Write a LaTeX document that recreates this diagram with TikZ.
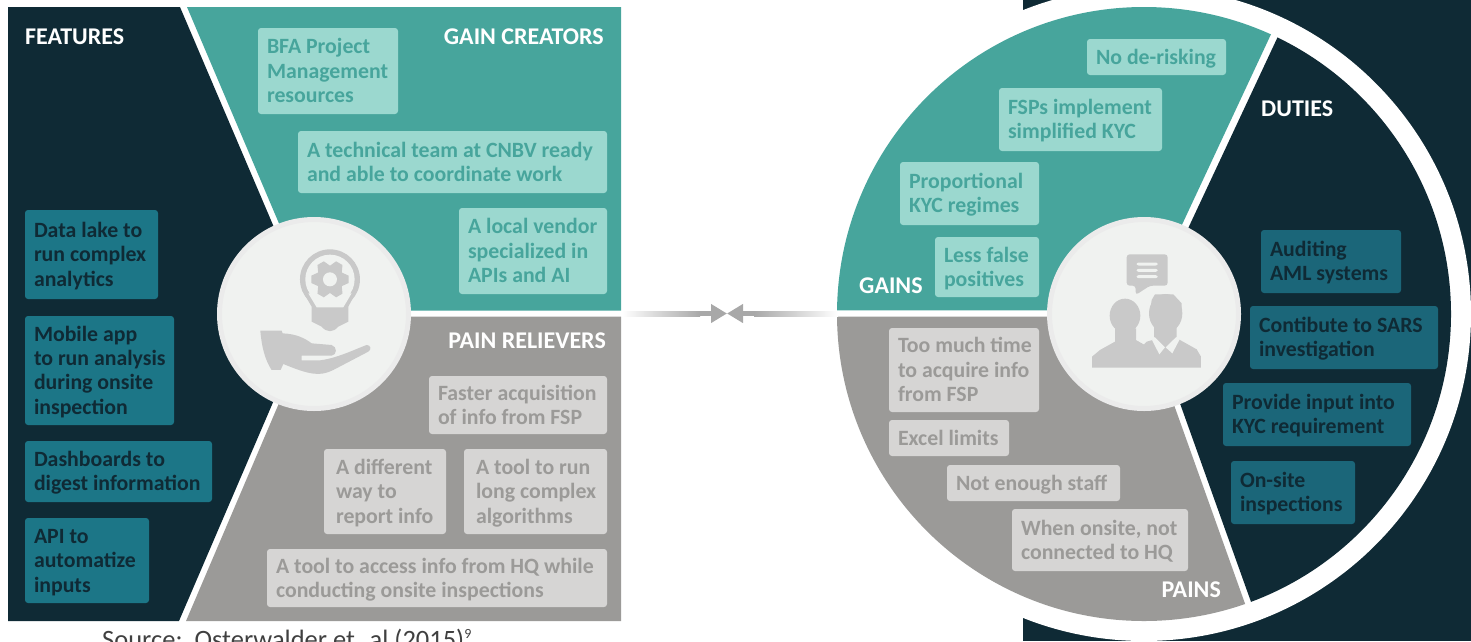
\documentclass[tikz,border=0pt]{standalone}
\usepackage{fontspec}
\setmainfont{Carlito}
\usetikzlibrary{arrows.meta}
\definecolor{ink}{HTML}{0F2A35}
\definecolor{teal}{HTML}{47A59C}
\definecolor{tealbox}{HTML}{9BD8CF}
\definecolor{gry}{HTML}{9B9A98}
\definecolor{grybox}{HTML}{D6D5D4}
\definecolor{fbox}{HTML}{1C7687}
\definecolor{dbox}{HTML}{1B6679}
\definecolor{hubfill}{HTML}{F0F2F0}
\definecolor{hubring}{HTML}{EBEBEB}
\definecolor{icon}{HTML}{C9C9C9}
\definecolor{shaft}{HTML}{A8A8A8}
\tikzset{
  boxbase/.style={rounded corners=3pt,inner xsep=9pt,inner ysep=0pt,outer sep=0pt,
    font=\fontsize{21.8}{24.4}\selectfont\bfseries},
  fbx/.style={boxbase,fill=fbox,text=ink},
  dbx/.style={boxbase,fill=dbox,text=ink},
  tbx/.style={boxbase,fill=tealbox,text=teal},
  gbx/.style={boxbase,fill=grybox,text=gry},
  lbl/.style={inner sep=0pt,text=white,font=\fontsize{24}{24}\selectfont\bfseries},
  hub/.style={circle,fill=hubfill,draw=hubring,line width=5pt,minimum size=189pt,inner sep=0pt,outer sep=0pt},
  conn/.style={draw=shaft,line width=5pt,-{Triangle[length=16pt,width=18pt,fill=shaft]}}
}
\newcommand\bx[7]{%
  \pgfmathsetmacro\bw{#4-#2}\pgfmathsetmacro\bh{#5-#3}\pgfmathsetmacro\tw{\bw-18}%
  \node[#6,anchor=north west,minimum width=\bw pt,minimum height=\bh pt] (#1) at (#2,#3) {\makebox[\tw pt][l]{\raisebox{-7.5pt}[0pt][0pt]{\begin{tabular}[c]{@{}l@{}}#7\end{tabular}}}};}
\begin{document}
\begin{tikzpicture}[x=1pt,y=-1pt]
\clip (0,0) rectangle (1471,641);
\useasboundingbox (0,0) rectangle (1471,641);
% left panels
\fill[ink] (8,7)--(180,7)--(311,314)--(179,621)--(8,621)--cycle;
\fill[teal] (187,7)--(621,7)--(621,310.5)--(316,310.5)--cycle;
\fill[gry] (186,621)--(621,621)--(621,316.5)--(316,316.5)--cycle;
% right panels
\fill[ink] (1023,0) rectangle (1471,641);
\fill[white] (1144,314) circle (327);
\begin{scope}
\clip (1144,314) circle (307);
\fill[teal] (830,310.3)--(1142,310.3)--(1287,0)--(830,0)--cycle;
\fill[gry] (830,316.7)--(1142.5,316.7)--(1260.3,646.5)--(830,646.5)--cycle;
\fill[ink] (1148,314)--(1295,0)--(1500,0)--(1500,641)--(1265,641)--cycle;
\end{scope}
% hubs
\node[hub] (hubL) at (314,314) {};
\node[hub] (hubR) at (1144,314) {};
% bulb and hand icon
\begin{scope}[shift={(0,190)},x=0.3333pt,y=-0.3333pt]
\fill[icon] (900,268) arc (180:-180:90) ;
\fill[icon] (906,300) -- (935,350) -- (935,395) -- (965,410) .. controls (980,428) and (1000,428) .. (1015,410) -- (1045,395) -- (1045,350) -- (1072,300) -- cycle;
\fill[hubfill] (916,268) arc (180:-180:74);
\fill[hubfill] (925,310) -- (950,352) -- (1030,352) -- (1055,310) -- cycle;
\foreach \a in {30,90,...,330}{\fill[icon,rotate around={\a:(990,268)}] (979,212) -- (1001,212) -- (1012,236) -- (968,236) -- cycle;}
\fill[icon] (990,268) circle (39);
\fill[hubfill] (990,268) circle (21);
\fill[icon] (781,422) -- (845,422) -- (848,430) .. controls (890,432) and (915,445) .. (935,460) -- (995,465) .. controls (1012,470) and (1012,495) .. (995,497) -- (905,497) -- (905,511) -- (960,511) .. controls (1010,505) and (1060,480) .. (1100,465) .. controls (1112,465) and (1116,478) .. (1105,485) -- (1000,540) .. controls (960,560) and (930,555) .. (850,522) -- (842,540) -- (815,540) .. controls (795,510) and (785,470) .. (781,422) -- cycle;
\end{scope}
% people icon
\begin{scope}[shift={(1020,200)},x=0.3333pt,y=-0.3333pt]
\fill[icon,rounded corners=3pt] (320,163) -- (443,163) -- (443,257) -- (390,257) -- (347,285) -- (347,257) -- (320,257) -- cycle;
\foreach \yy in {192,211,230}{\fill[hubfill,rounded corners=2pt] (350,\yy-4.5) rectangle (413,\yy+4.5);}
\fill[icon] (315,347) ellipse [x radius=46,y radius=51];
\fill[icon] (216,503) -- (216,470) -- (240,450) -- (285,425) -- (285,385) -- (348,385) -- (348,420) -- (372,433) -- (395,420) -- (480,420) -- (530,448) -- (543,470) -- (543,503) -- cycle;
\fill[hubfill] (352,385) -- (362,360) -- (378,360) -- (388,395) -- (400,425) -- (372,433) -- (350,420) -- cycle;
\fill[icon] (437,340) ellipse [x radius=50,y radius=58];
\fill[icon] (402,370) -- (402,410) -- (435,445) -- (470,410) -- (470,370) -- cycle;
\fill[icon] (395,300) -- (405,283) -- (460,283) -- (485,310) -- (485,340) -- (390,340) -- cycle;
\fill[icon] (380,425) -- (398,420) -- (415,462) -- (372,433) -- cycle;
\fill[hubfill] (396,420) -- (418,463) -- (435,442) -- (405,412) -- cycle;
\fill[hubfill] (478,420) -- (457,460) -- (437,442) -- (468,412) -- cycle;
\end{scope}
% connector
\coordinate (pL) at (622,313.5);
\coordinate (pR) at (838,313.5);
\coordinate (tipL) at (727,313.5);
\coordinate (tipR) at (727,313.5);
\draw[conn] (pL) -- (tipL);
\draw[conn] (pR) -- (tipR);
\shade[left color=white,right color=shaft] (622,311) rectangle (700,316);
\shade[left color=shaft,right color=white] (754,311) rectangle (838,316);
% labels
\node[lbl,anchor=west] (lFeat) at (25,37) {FEATURES};
\node[lbl,anchor=east] (lGC) at (604,37) {GAIN CREATORS};
\node[lbl,anchor=east] (lPR) at (606,340.5) {PAIN RELIEVERS};
\node[lbl,anchor=west] (lGains) at (859,285.5) {GAINS};
\node[lbl,anchor=east] (lPains) at (1221,589.5) {PAINS};
\node[lbl,anchor=west] (lDuties) at (1261,108.5) {DUTIES};
% feature boxes
\bx{f1}{25}{210}{158}{299}{fbx}{Data lake to\\run complex\\analytics}
\bx{f2}{25}{316}{174}{425}{fbx}{Mobile app\\to run analysis\\during onsite\\inspection}
\bx{f3}{25}{441}{212}{502}{fbx}{Dashboards to\\digest information}
\bx{f4}{25}{518}{149}{603}{fbx}{API to\\automatize\\inputs}
% gain creators
\bx{g1}{258}{28}{398}{114}{tbx}{BFA Project\\Management\\resources}
\bx{g2}{298}{131}{607}{193}{tbx}{A technical team at CNBV ready\\and able to coordinate work}
\bx{g3}{459}{208}{607}{294}{tbx}{A local vendor\\specialized in\\APIs and AI}
% pain relievers
\bx{r1}{429}{376}{607}{434}{gbx}{Faster acquisition\\of info from FSP}
\bx{r2}{324}{449}{446}{534}{gbx}{\hspace*{3pt}A different\\\hspace*{3pt}way to\\\hspace*{3pt}report info}
\bx{r3}{464}{449}{607}{534}{gbx}{\hspace*{3pt}A tool to run\\\hspace*{3pt}long complex\\\hspace*{3pt}algorithms}
\bx{r4}{267}{549}{607}{607}{gbx}{A tool to access info from HQ while\\conducting onsite inspections}
% gains
\bx{a1}{1087}{39}{1226}{75}{tbx}{No de-risking}
\bx{a2}{999}{88}{1162}{151}{tbx}{FSPs implement\\simplified KYC}
\bx{a3}{900}{162}{1039}{225}{tbx}{Proportional\\KYC regimes}
\bx{a4}{935}{237}{1039}{297}{tbx}{Less false\\positives}
% pains
\bx{p1}{889}{328}{1039}{412}{gbx}{Too much time\\to acquire info\\from FSP}
\bx{p2}{889}{420}{1009}{456}{gbx}{Excel limits}
\bx{p3}{947}{465}{1120}{501}{gbx}{Not enough staff}
\bx{p4}{1012}{509}{1188}{571}{gbx}{When onsite, not\\connected to HQ}
% duties
\bx{d1}{1261}{230}{1401}{293}{dbx}{Auditing\\AML systems}
\bx{d2}{1250}{306}{1438}{369}{dbx}{Contibute to SARS\\investigation}
\bx{d3}{1223}{383}{1411}{446}{dbx}{Provide input into\\KYC requirement}
\bx{d4}{1231}{461}{1355}{524}{dbx}{On-site\\inspections}
% source
\node[anchor=base west,inner sep=0pt,text=black!75,font=\fontsize{26.5}{28}\selectfont] (src) at (102,648) {Source:\ \ Osterwalder et. al (2015)\raisebox{10pt}{\fontsize{14}{14}\selectfont 9}};
\end{tikzpicture}
\end{document}
